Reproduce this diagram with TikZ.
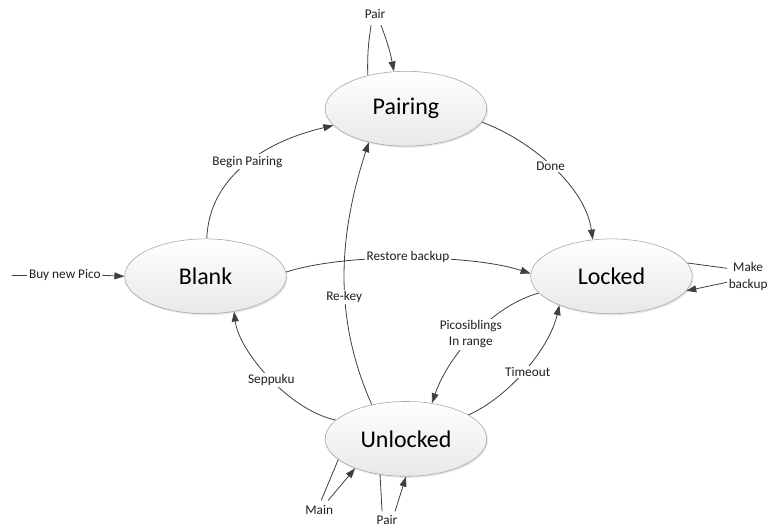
\documentclass[tikz,border=0pt]{standalone}
\usepackage{fontspec}
\setmainfont{Carlito}
\usetikzlibrary{arrows.meta,shapes.geometric,shadows,backgrounds}

\definecolor{linegray}{HTML}{3F3F3F}
\definecolor{rimgray}{HTML}{A8A8A8}

\begin{document}
\begin{tikzpicture}[x=1pt,y=1pt,
  state/.style={ellipse, draw=rimgray, line width=0.6pt,
    minimum width=162pt, minimum height=75pt, inner sep=0pt,
    top color=white, bottom color=black!9,
    font=\fontsize{24}{28}\selectfont,
    drop shadow={shadow xshift=1.2pt, shadow yshift=-1.6pt, opacity=0.18}},
  lbl/.style={fill=white, inner sep=1.5pt, text=black!88,
    font=\fontsize{13.3}{16.5}\selectfont},
  conn/.style={draw=linegray, line width=0.8pt},
  arr/.style={conn, -{Triangle[length=10pt,width=7pt]}}
]

% states
\node[state] (pairing)  at (407,-109) {Pairing};
\node[state] (blank)    at (206,-277) {Blank};
\node[state] (locked)   at (613,-277) {Locked};
\node[state] (unlocked) at (407,-440) {Unlocked};

% transition labels
\node[lbl] (bp) at (248,-162) {Begin Pairing};
\node[lbl] (dn) at (552,-167) {Done};
\node[lbl] (rb) at (409,-258) {Restore backup};
\node[lbl] (rk) at (345,-298) {Re-key};
\node[lbl, align=center] (ps) at (472,-335) {Picosiblings\\In range};
\node[lbl] (to) at (529,-373) {Timeout};
\node[lbl] (sp) at (272,-381) {Seppuku};
\node[lbl] (buy) at (65,-276) {Buy new Pico};
\node[lbl] (pr) at (376,-14) {Pair};
\node[lbl, align=center] (mb) at (750,-277) {Make\\backup};
\node[lbl] (mn) at (320,-511) {Main};
\node[lbl] (pb) at (388,-521) {Pair};
\coordinate (src) at (12,-276);

\begin{scope}[on background layer]
  \path[use as bounding box, fill=white] (0,0) rectangle (769,-529);

  % transitions between states (labels sit on top of them)
  \draw[arr] (blank.88) to[out=88,in=193,out distance=64,in distance=67] (pairing.193);
  \draw[arr] (pairing.350) to[out=-20,in=98,out distance=50,in distance=55] (locked.117);
  \draw[arr] (blank.3) to[out=18,in=162,out distance=63,in distance=63] (locked.178);
  \draw[arr] (unlocked.135) to[out=114,in=252,out distance=98,in distance=95] (pairing.222);
  \draw[arr] (locked.193) to[out=195,in=71,out distance=47,in distance=52] (unlocked.54);
  \draw[arr] (unlocked.21) to[out=24,in=257,out distance=44,in distance=45] (locked.209);
  \draw[arr] (unlocked.165) to[out=168,in=277,out distance=48,in distance=40] (blank.309);
\end{scope}

% entry
\draw[conn] (src) -- (buy.west);
\draw[arr] (buy.east) -- (blank.west);

% self transitions
\draw[conn] (pairing.139) to[bend left=5] ([xshift=-4pt,yshift=-5pt]pr.south);
\draw[arr] ([xshift=6pt,yshift=-5pt]pr.south) to[bend left=5] (pairing.108);

\draw[conn] (locked.10.6) -- ([yshift=8pt]mb.west);
\draw[arr] ([yshift=-6pt]mb.west) -- (locked.349);

\draw[conn] (unlocked.197) -- ([xshift=2pt,yshift=3pt]mn.north);
\draw[arr] ([xshift=9pt,yshift=3pt]mn.north) -- (unlocked.210);

\draw[conn] (unlocked.234) -- ([xshift=-5pt,yshift=2pt]pb.north);
\draw[arr] ([xshift=8pt,yshift=2pt]pb.north) -- (unlocked.270);

\end{tikzpicture}
\end{document}
